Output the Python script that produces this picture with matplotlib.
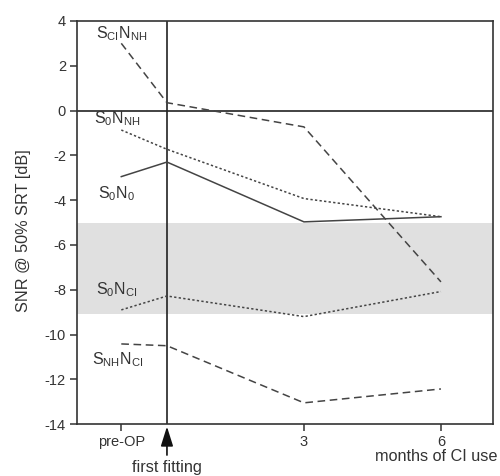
import matplotlib.pyplot as plt
import matplotlib.ticker as ticker

plt.rcParams['font.family'] = ['Liberation Sans', 'DejaVu Sans']
plt.rcParams['axes.unicode_minus'] = False
plt.rcParams['mathtext.fontset'] = 'custom'
plt.rcParams['mathtext.rm'] = 'Liberation Sans'

months = [-1, 0, 3, 6]
tick_pos = [-1, 3, 6]
tick_labels = ['pre-OP', '3', '6']

s_ci_n_nh = [3.0, 0.35, -0.73, -7.65]
s0_n_nh = [-0.87, -1.73, -3.93, -4.74]
s0_n0 = [-2.95, -2.3, -4.97, -4.74]
s0_n_ci = [-8.9, -8.28, -9.2, -8.08]
s_nh_n_ci = [-10.42, -10.5, -13.05, -12.43]

band = (-9.08, -5.0)
col = '#333333'

fig = plt.figure(figsize=(5, 4.76), dpi=100)
ax = fig.add_axes([0.154, 0.109, 0.832, 0.847])

ax.axhspan(band[0], band[1], color='#e0e0e0', lw=0, zorder=0)
ax.axvline(0, color='#222222', lw=1.2, zorder=1)
ax.axhline(0, color='#222222', lw=1.2, zorder=1)

ax.plot(months, s_ci_n_nh, color='#444444', lw=1.1, linestyle=(0, (5, 3)))
ax.plot(months, s0_n_nh, color='#444444', lw=1.1, linestyle=(0, (1.5, 1.5)))
ax.plot(months, s0_n0, color='#444444', lw=1.1, linestyle='-')
ax.plot(months, s0_n_ci, color='#444444', lw=1.1, linestyle=(0, (1.5, 1.5)))
ax.plot(months, s_nh_n_ci, color='#444444', lw=1.1, linestyle=(0, (5, 3)))

fs = 11.5
ax.text(-1.55, 3.45, r'$\mathregular{S_{CI}N_{NH}}$', fontsize=fs, va='center', color=col)
ax.text(-1.6, -0.35, r'$\mathregular{S_{0}N_{NH}}$', fontsize=fs, va='center', color=col)
ax.text(-1.52, -3.7, r'$\mathregular{S_{0}N_{0}}$', fontsize=fs, va='center', color=col)
ax.text(-1.55, -8.0, r'$\mathregular{S_{0}N_{CI}}$', fontsize=fs, va='center', color=col)
ax.text(-1.65, -11.1, r'$\mathregular{S_{NH}N_{CI}}$', fontsize=fs, va='center', color=col)

ax.set_xlim(-1.97, 7.14)
ax.set_ylim(-14, 4)
ax.set_xticks(tick_pos)
ax.set_xticklabels(tick_labels)
ax.yaxis.set_major_locator(ticker.MultipleLocator(2))
ax.tick_params(axis='both', direction='out', length=5, width=1.1, color=col,
               labelsize=10.5, labelcolor=col, pad=3)
for s in ax.spines.values():
    s.set_color(col)
    s.set_linewidth(1.2)

ax.set_ylabel('SNR @ 50% SRT [dB]', fontsize=11.7, color=col, va='center')
ax.yaxis.set_label_coords(-0.128, 0.479)

# arrow marking the first fitting, below the axis
ax.annotate('', xy=(0, -0.006), xycoords=('data', 'axes fraction'),
            xytext=(0, 0.044), textcoords=('data', 'figure fraction'),
            arrowprops=dict(arrowstyle='-|>,head_length=0.7,head_width=0.22',
                            color='#111111', lw=1.2,
                            mutation_scale=17, shrinkA=0, shrinkB=0),
            annotation_clip=False)
fig.text(ax.transData.transform((0, 0))[0] / fig.bbox.width, 0.017, 'first fitting',
         ha='center', va='center', fontsize=11.7, color=col)
fig.text(0.995, 0.04, 'months of CI use', ha='right', va='center', fontsize=11.7, color=col)

fig.savefig('out.png')
